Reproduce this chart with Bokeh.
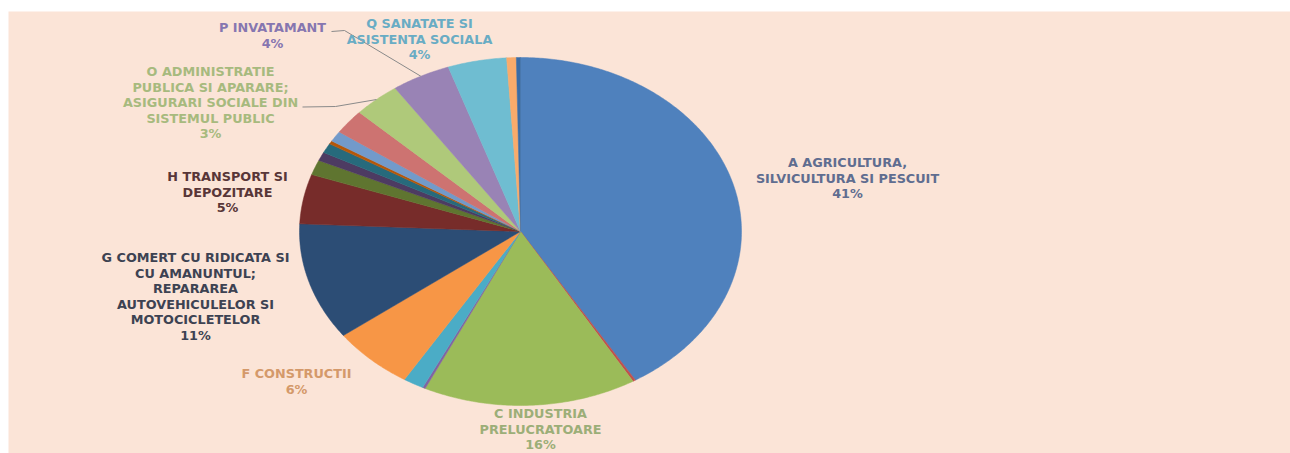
import numpy as np
from bokeh.plotting import figure
from bokeh.models import Range1d, ColumnDataSource
from bokeh.embed import file_html
from bokeh.resources import INLINE
from bokeh.core.properties import value

# ---------------- data ----------------
sections = ["A", "B", "C", "D", "E", "F", "G", "H", "I", "J",
            "K", "L", "M", "N", "O", "P", "Q", "R", "S"]
names = {
    "A": "A AGRICULTURA,\nSILVICULTURA SI PESCUIT",
    "C": "C INDUSTRIA\nPRELUCRATOARE",
    "F": "F CONSTRUCTII",
    "G": "G COMERT CU RIDICATA SI\nCU AMANUNTUL;\nREPARAREA\nAUTOVEHICULELOR SI\nMOTOCICLETELOR",
    "H": "H TRANSPORT SI\nDEPOZITARE",
    "O": "O ADMINISTRATIE\nPUBLICA SI APARARE;\nASIGURARI SOCIALE DIN\nSISTEMUL PUBLIC",
    "P": "P INVATAMANT",
    "Q": "Q SANATATE SI\nASISTENTA SOCIALA",
}
shares = [41.3, 0.2, 15.6, 0.2, 1.5, 6.0, 10.9, 4.6, 1.4, 0.8,
          0.9, 0.3, 1.0, 2.3, 3.4, 4.3, 4.3, 0.7, 0.3]
slice_colors = ["#4F81BD", "#C0504D", "#9BBB59", "#8064A2", "#4BACC6", "#F79646",
                "#2C4D75", "#772C2A", "#5F7530", "#4D3B62", "#276A7C", "#B65708",
                "#729ACA", "#CD7371", "#AFC97A", "#9983B5", "#6FBDD1", "#F9AB6B",
                "#3A6CA6"]

# ---------------- layout (styling only) ----------------
BG = "#FBE4D7"
CX, CY, RX, RY = 520.0, 231.0, 221.0, 174.0
LINE_STEP = 15.5
label_layout = {  # first-line centre, text colour
    "A": (847, 162, "#5f6d90"),
    "C": (540, 413, "#9cae78"),
    "F": (296, 373, "#d4996a"),
    "G": (195, 257, "#3d4252"),
    "H": (227, 176, "#583638"),
    "O": (210, 71, "#a7ba7e"),
    "P": (272, 27, "#8676b0"),
    "Q": (419, 23, "#69acc4"),
}
leader_start = {"O": [(302, 106.5), (335, 106)], "P": [(331, 31), (344, 30)]}

p = figure(width=1290, height=453, output_backend="svg", toolbar_location=None,
           x_range=Range1d(8, 1290), y_range=Range1d(453, 11),
           x_axis_location=None, y_axis_location=None,
           min_border=0, min_border_left=8, min_border_right=0,
           min_border_top=11, min_border_bottom=0)
p.background_fill_color = BG
p.border_fill_color = "white"
p.outline_line_color = None
p.grid.visible = False

total = float(sum(shares))
frac = np.array(shares) / total
ends = np.cumsum(frac) * 2 * np.pi
starts = ends - frac * 2 * np.pi

xs, ys = [], []
for a0, a1 in zip(starts, ends):
    t = np.linspace(a0, a1, max(3, int((a1 - a0) / 0.01) + 2))
    xs.append(list(np.concatenate([[CX], CX + RX * np.sin(t)])))
    ys.append(list(np.concatenate([[CY], CY - RY * np.cos(t)])))

p.patches(xs, ys, fill_color=slice_colors, line_color=slice_colors, line_width=0.5)

# leader lines
for code, pts in leader_start.items():
    i = sections.index(code)
    mid = (starts[i] + ends[i]) / 2
    ex, ey = CX + RX * np.sin(mid), CY - RY * np.cos(mid)
    lx = [q[0] for q in pts] + [ex]
    ly = [q[1] for q in pts] + [ey]
    p.line(lx, ly, line_color="#8a8a8a", line_width=1)

# labels
tx, ty, tt, tc = [], [], [], []
for code, (x0, y0, col) in label_layout.items():
    i = sections.index(code)
    pct = f"{round(100 * frac[i]):.0f}%"
    lines = names[code].split("\n") + [pct]
    for k, ln in enumerate(lines):
        tx.append(x0)
        ty.append(y0 + k * LINE_STEP)
        tt.append(ln)
        tc.append(col)

src = ColumnDataSource(dict(x=tx, y=ty, text=tt, color=tc))
p.text(x="x", y="y", text="text", source=src, text_color="color",
       text_font=value("DejaVu Sans"), text_font_style="bold",
       text_font_size="12.8px", text_align="center", text_baseline="middle")

open("out.html", "w").write(file_html(p, INLINE))
